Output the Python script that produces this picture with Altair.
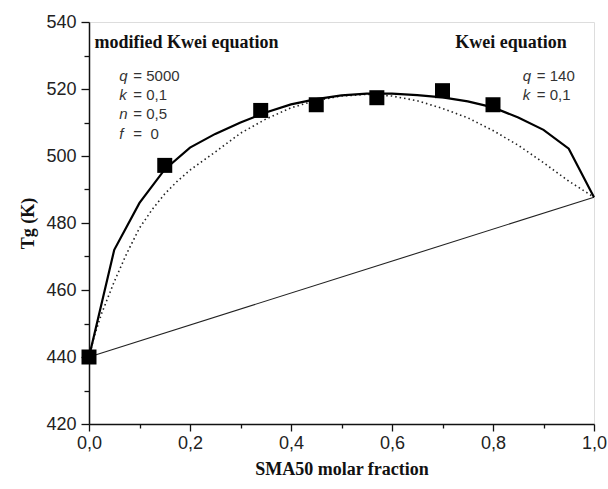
import altair as alt
import pandas as pd

# ---- data ----
exp_x = [0.0, 0.15, 0.34, 0.45, 0.57, 0.70, 0.80]
exp_y = [440.0, 497.2, 513.6, 515.3, 517.4, 519.5, 515.3]

kwei_x = [0.0, 0.05, 0.10, 0.15, 0.20, 0.25, 0.30, 0.35, 0.40, 0.45, 0.50,
          0.55, 0.60, 0.65, 0.70, 0.75, 0.80, 0.85, 0.90, 0.95, 1.0]
kwei_y = [440.0, 472.0, 486.0, 496.0, 502.5, 506.6, 510.0, 513.0, 515.4, 517.0, 518.1,
          518.6, 518.6, 518.2, 517.5, 516.3, 514.5, 511.5, 507.8, 502.2, 487.7]

mod_x = [0.0, 0.01, 0.025, 0.05, 0.075, 0.10, 0.125, 0.15, 0.175, 0.20, 0.25, 0.30, 0.35,
         0.40, 0.45, 0.50, 0.55, 0.60, 0.65, 0.70, 0.75, 0.80, 0.85, 0.90, 0.95, 1.0]
mod_y = [440.0, 446.0, 453.0, 462.5, 471.0, 478.5, 484.0, 488.7, 492.5, 495.8, 501.2, 506.8, 511.0,
         514.4, 516.6, 517.9, 518.4, 517.9, 516.5, 514.2, 511.4, 507.6, 503.2, 498.0, 492.5, 487.7]

lin_x = [0.0, 1.0]
lin_y = [440.0, 487.7]

x_ticks = [0.0, 0.1, 0.2, 0.3, 0.4, 0.5, 0.6, 0.7, 0.8, 0.9, 1.0]
y_ticks = [420, 430, 440, 450, 460, 470, 480, 490, 500, 510, 520, 530, 540]

head_text = ["modified Kwei equation", "Kwei equation"]
head_x = [0.011, 0.946]
head_y = [533.6, 533.6]
head_align = ["left", "right"]

par_letter = ["q", "k", "n", "f", "q", "k"]
par_rest = ["= 5000", "= 0,1", "= 0,5", "= \u00a00", "= 140", "= 0,1"]
par_x = [0.060, 0.060, 0.060, 0.060, 0.859, 0.859]
par_y = [524.0, 518.1, 512.4, 506.7, 524.0, 518.1]

# ---- tables ----
exp_df = pd.DataFrame({"x": exp_x, "y": exp_y})
kwei_df = pd.DataFrame({"x": kwei_x, "y": kwei_y})
mod_df = pd.DataFrame({"x": mod_x, "y": mod_y})
lin_df = pd.DataFrame({"x": lin_x, "y": lin_y})
head_df = pd.DataFrame({"x": head_x, "y": head_y, "text": head_text, "align": head_align})
par_df = pd.DataFrame({"x": par_x, "y": par_y, "letter": par_letter, "rest": par_rest})

x_axis = alt.Axis(
    values=x_ticks,
    labelExpr="round(datum.value*10) % 2 === 0 ? replace(format(datum.value, '.1f'), '.', ',') : ''",
    tickSize={"condition": {"test": "round(datum.value*10) % 2 === 0", "value": 7}, "value": 4},
    labelFlush=False, labelOverlap=False, grid=False,
    labelFont="Liberation Sans", labelFontSize=18, labelColor="#222", labelPadding=3,
    titleFont="Liberation Serif", titleFontWeight="bold", titleFontSize=18, titleColor="#111",
    titlePadding=8, domainColor="#111", domainWidth=1.5, tickColor="#111", tickWidth=1.3,
)
y_axis = alt.Axis(
    values=y_ticks,
    labelExpr="datum.value % 20 === 0 ? datum.label : ''",
    tickSize={"condition": {"test": "datum.value % 20 === 0", "value": 8}, "value": 5},
    labelFlush=False, labelOverlap=False, grid=False,
    labelFont="Liberation Sans", labelFontSize=18, labelColor="#222", labelPadding=5,
    titleFont="Liberation Serif", titleFontWeight="bold", titleFontSize=18, titleColor="#111",
    titlePadding=8, domainColor="#111", domainWidth=1.5, tickColor="#111", tickWidth=1.3,
)
x_scale = alt.Scale(domain=[0, 1], nice=False)
y_scale = alt.Scale(domain=[420, 540], nice=False)

X = alt.X("x:Q", scale=x_scale, axis=x_axis, title="SMA50 molar fraction")
Y = alt.Y("y:Q", scale=y_scale, axis=y_axis, title="Tg (K)")

lin = alt.Chart(lin_df).mark_line(color="#222", strokeWidth=1.1).encode(x=X, y=Y)
mod = alt.Chart(mod_df).mark_line(color="#222", strokeWidth=1.6, strokeDash=[1.5, 3]).encode(x=X, y=Y)
kwei = alt.Chart(kwei_df).mark_line(color="#000", strokeWidth=2.2).encode(x=X, y=Y)
pts = alt.Chart(exp_df).mark_point(shape="square", size=225, filled=True, color="#000", opacity=1).encode(x=X, y=Y)

head_l = alt.Chart(head_df).transform_filter("datum.align == 'left'").mark_text(
    align="left", baseline="middle", font="Liberation Serif", fontWeight="bold", fontSize=18, color="#111"
).encode(x=X, y=Y, text="text:N")
head_r = alt.Chart(head_df).transform_filter("datum.align == 'right'").mark_text(
    align="right", baseline="middle", font="Liberation Serif", fontWeight="bold", fontSize=18, color="#111"
).encode(x=X, y=Y, text="text:N")

par_l = alt.Chart(par_df).mark_text(
    align="left", baseline="middle", font="Liberation Sans", fontStyle="italic", fontSize=15, color="#333"
).encode(x=X, y=Y, text="letter:N")
par_r = alt.Chart(par_df).mark_text(
    align="left", baseline="middle", font="Liberation Sans", fontSize=15, color="#333", dx=14
).encode(x=X, y=Y, text="rest:N")

chart = alt.layer(lin, mod, kwei, pts, head_l, head_r, par_l, par_r).properties(
    width=505, height=402,
    autosize=alt.AutoSizeParams(type="none"),
    padding={"left": 89, "top": 22, "right": 14, "bottom": 65},
).configure_view(stroke="#111", strokeWidth=1.5).configure(background="white")

chart.save("out.html", embed_options={"renderer": "svg", "actions": False})
